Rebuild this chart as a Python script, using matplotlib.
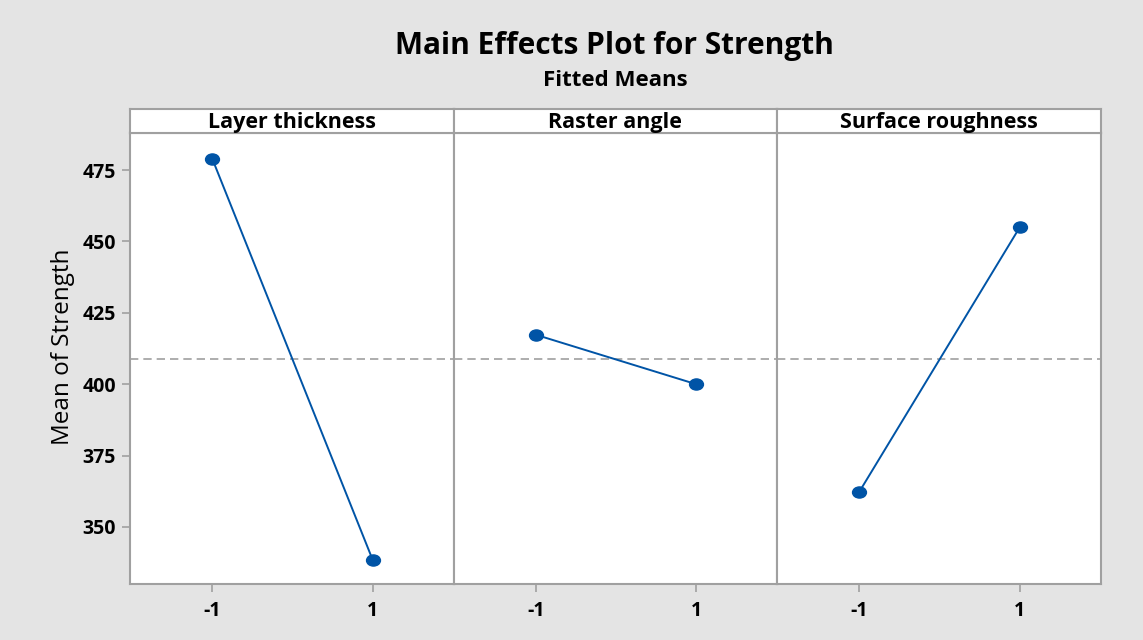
import numpy as np
import matplotlib.pyplot as plt
from matplotlib.path import Path
from matplotlib.transforms import Affine2D

plt.rcParams['font.family'] = ['Open Sans', 'DejaVu Sans']

factors = ["Layer thickness", "Raster angle", "Surface roughness"]
levels = [-1, 1]
level_labels = ["-1", "1"]
layer_means = [478.8, 338.5]
raster_means = [417.3, 400.0]
roughness_means = [362.4, 454.9]
grand_mean = 408.7
y_ticks = [350, 375, 400, 425, 450, 475]

series = [layer_means, raster_means, roughness_means]

bg = "#e4e4e4"
edge = "#a0a0a0"
blue = "#0054a6"

# slightly wide ellipse used as point marker
ellipse = Path.unit_circle().transformed(Affine2D().scale(1.25, 1.0))

fig = plt.figure(figsize=(11.43, 6.4), dpi=100, facecolor=bg)

left = 130 / 1143
pw = 323.5 / 1143
bottom = 56 / 640
h = 451 / 640
strip_h = 24 / 640

axes = []
for i, (name, vals) in enumerate(zip(factors, series)):
    ax = fig.add_axes([left + i * pw, bottom, pw, h])
    ax.set_facecolor("white")
    ax.plot(levels, vals, color=blue, lw=1.4, marker=ellipse, ms=10,
            mec=blue, mfc=blue, zorder=3)
    ax.axhline(grand_mean, color="#a0a0a0", lw=1.2, ls=(0, (5, 3)), zorder=2)
    ax.set_xlim(-2.03, 2.01)
    ax.set_ylim(330, 488)
    ax.set_xticks(levels)
    ax.set_xticklabels(level_labels, fontsize=14, fontweight="bold")
    for s in ax.spines.values():
        s.set_color(edge)
        s.set_linewidth(1.5)
    ax.tick_params(colors=edge, length=6, width=1.2, labelcolor="black", pad=6)
    if i == 0:
        ax.set_yticks(y_ticks)
        ax.set_yticklabels([str(v) for v in y_ticks], fontsize=14, fontweight="bold")
        ax.tick_params(axis="y", pad=4)
        ax.set_ylabel("Mean of Strength", fontsize=17.5)
        ax.yaxis.set_label_coords(-0.17, 0.525)
    else:
        ax.set_yticks([])
    # strip header above each panel
    sx = fig.add_axes([left + i * pw, bottom + h, pw, strip_h])
    sx.set_facecolor("white")
    sx.set_xticks([])
    sx.set_yticks([])
    for s in sx.spines.values():
        s.set_color(edge)
        s.set_linewidth(1.5)
    sx.text(0.5, 0.45, name, ha="center", va="center", fontsize=15.5,
            fontweight="bold", transform=sx.transAxes)
    axes.append(ax)

fig.text(0.538, 1 - 46 / 640, "Main Effects Plot for Strength", ha="center",
         va="center", fontsize=21.5, fontweight="bold")
fig.text(0.538, 1 - 80 / 640, "Fitted Means", ha="center", va="center",
         fontsize=16, fontweight="bold")

fig.savefig("out.png", dpi=100, facecolor=bg)
